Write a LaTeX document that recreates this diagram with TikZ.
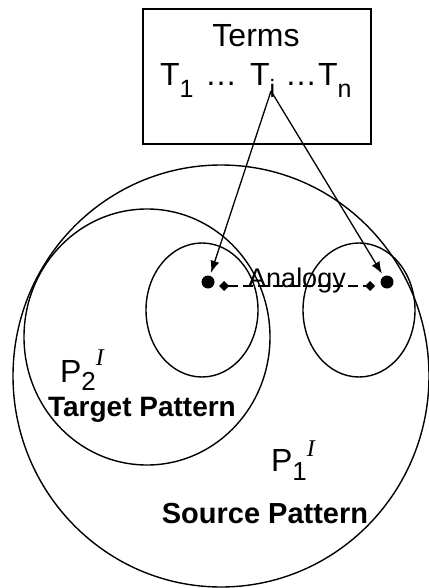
\documentclass[tikz,border=0pt]{standalone}
\usepackage{fontspec}
\setmainfont{Liberation Sans}
\newfontfamily\serifit{Liberation Serif}
\usetikzlibrary{arrows.meta}
\newcommand{\fs}[1]{\fontsize{#1pt}{#1pt}\selectfont}
\begin{document}
\begin{tikzpicture}[x=1pt,y=-1pt,
  outline/.style={draw=black,line width=1.4pt},
  lbl/.style={inner sep=0pt,outer sep=0pt,anchor=base west},
  clbl/.style={inner sep=0pt,outer sep=0pt,anchor=base},
  dot/.style={circle,fill=black,inner sep=0pt,minimum size=13pt},
  ptr/.style={draw=black,line width=1.3pt,-{Latex[length=12pt,width=9pt]},shorten >=3pt},
  analog/.style={draw=black,line width=2pt,dash pattern=on 10pt off 5pt,{Diamond[length=10pt,width=10pt]}-{Diamond[length=10pt,width=10pt]}}
]
\useasboundingbox (0,0) rectangle (428,588);
% box
\node[draw=black,line width=1.6pt,inner sep=0pt,minimum width=228pt,minimum height=135pt,anchor=north west] (box) at (142,8) {};
\node[clbl] (terms) at (256,47) {\fs{32}Terms};
\node[lbl] (t1) at (160,86) {\fs{32}T\raisebox{-12pt}{\fs{25}1}};
\node[lbl] (e1) at (205,86) {\fs{32}\char"2026};
\node[lbl] (ti) at (250,86) {\fs{32}T\raisebox{-12pt}{\fs{25}i}};
\node[lbl] (e2) at (285,86) {\fs{32}\char"2026};
\node[lbl] (tn) at (318,86) {\fs{32}T\raisebox{-12pt}{\fs{25}n}};
\coordinate (src) at (271,91);
% circles
\draw[outline] (221,376) ellipse [x radius=208pt, y radius=211pt];
\draw[outline] (147,337) ellipse [x radius=123pt, y radius=128pt];
\draw[outline] (202,310) ellipse [x radius=56pt, y radius=67pt];
\draw[outline] (359,310) ellipse [x radius=56pt, y radius=67pt];
% dots
\node[dot] (dl) at (208,282) {};
\node[dot] (dr) at (387,282) {};
\draw[ptr] (src) -- (dl);
\draw[ptr] (src) -- (dr);
% analogy
\coordinate (al) at (219,286);
\coordinate (ar) at (375,286);
\draw[analog] (al) -- (ar);
\node[clbl] (analogy) at (297,287) {\fs{27}Analogy};
% labels
\node[lbl] (p2) at (60,382) {\fs{32}P\raisebox{-8pt}{\fs{26}2}\raisebox{17pt}{\fs{24}\serifit\itshape I}};
\node[clbl] (target) at (142,416) {\fs{28}\bfseries Target Pattern};
\node[lbl] (p1) at (271,471) {\fs{32}P\raisebox{-9pt}{\fs{26}1}\raisebox{15pt}{\fs{24}\serifit\itshape I}};
\node[clbl] (source) at (265,523) {\fs{29}\bfseries Source Pattern};
\end{tikzpicture}
\end{document}
